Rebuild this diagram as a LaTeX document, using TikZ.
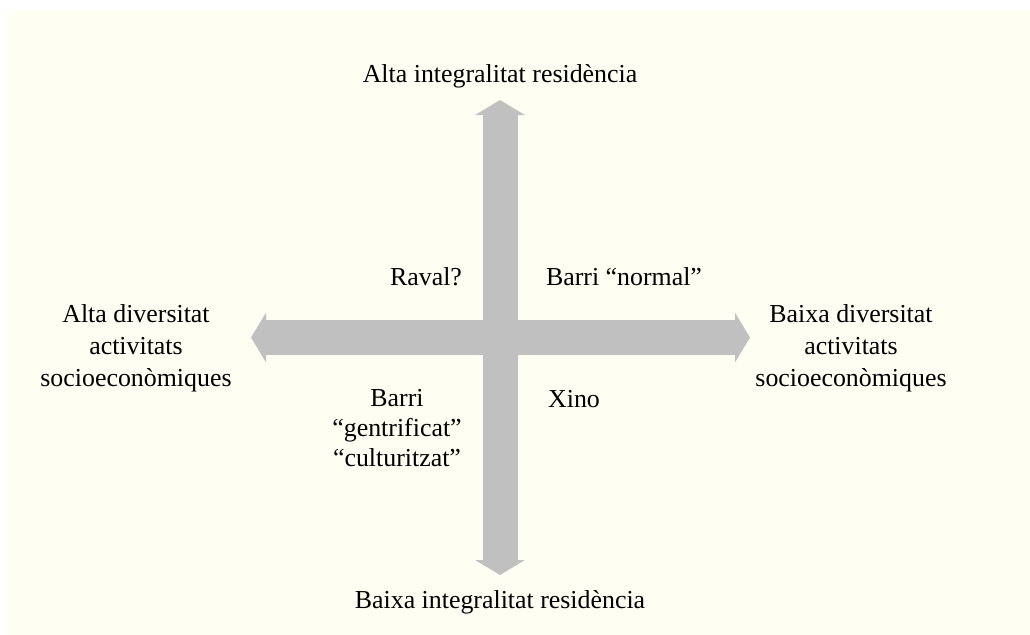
\documentclass[tikz,border=0pt]{standalone}
\usepackage{fontspec}
\setmainfont{Liberation Serif}
\usetikzlibrary{arrows.meta}
\definecolor{paper}{RGB}{254,254,242}
\definecolor{axisgray}{RGB}{192,192,192}

\begin{document}
\begin{tikzpicture}[x=0.025cm,y=-0.025cm,
    axis/.style={color=axisgray,line width=0.875cm,
      {Triangle[width=1.225cm,length=0.375cm]}-{Triangle[width=1.225cm,length=0.375cm]}},
    lbl/.style={inner sep=0pt,font=\fontsize{18.4}{22.8}\selectfont,align=center}]

  \useasboundingbox (0,0) rectangle (1030,635);
  \fill[paper] (7,10) rectangle (1030,635);

  \coordinate (top) at (500,100);
  \coordinate (bottom) at (500,575);
  \coordinate (left) at (251,337.5);
  \coordinate (right) at (750,337.5);

  \draw[axis] (left)--(right);
  \draw[axis] (top)--(bottom);

  \node[lbl,anchor=base] (hires) at (500,83) {Alta integralitat residència};
  \node[lbl,anchor=base] (lores) at (500,608) {Baixa integralitat residència};
  \node[lbl] (hidiv) at (136,348) {Alta diversitat\\activitats\\socioeconòmiques};
  \node[lbl] (lodiv) at (851,348) {Baixa diversitat\\activitats\\socioeconòmiques};

  \node[lbl,anchor=base] (raval) at (426,286) {Raval?};
  \node[lbl,anchor=base] (normal) at (624,286) {Barri “normal”};
  \node[lbl,anchor=base] (xino) at (574,407) {Xino};
  \node[lbl,font=\fontsize{18.4}{21.3}\selectfont] (gentri) at (397,428) {Barri\\“gentrificat”\\“culturitzat”};

\end{tikzpicture}
\end{document}
